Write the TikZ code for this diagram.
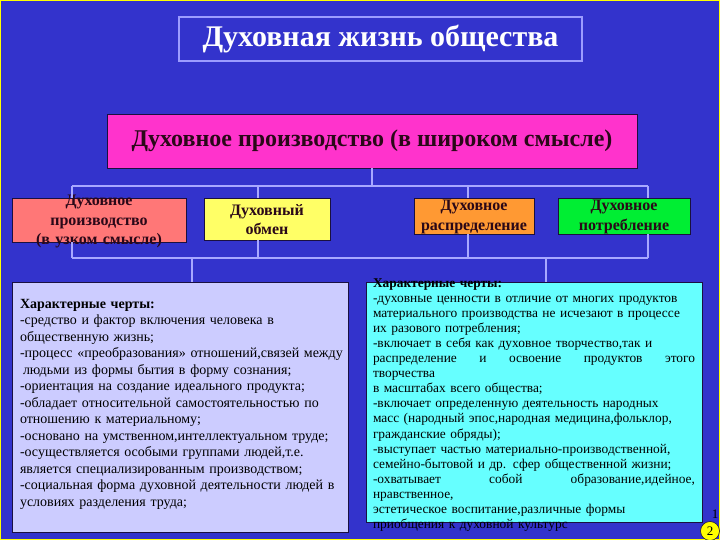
\documentclass[tikz,border=0pt]{standalone}
\usepackage{fontspec}
\setmainfont{Liberation Serif}
\usetikzlibrary{positioning}

\definecolor{slideblue}{HTML}{3333CC}
\definecolor{slideyellow}{HTML}{FFFF00}
\definecolor{titleframe}{HTML}{9C9CFF}
\definecolor{wireline}{HTML}{A8A8FF}
\definecolor{boxline}{HTML}{1A1040}
\definecolor{widepink}{HTML}{FF33CC}
\definecolor{narrowred}{HTML}{FF7777}
\definecolor{exchyellow}{HTML}{FFFF66}
\definecolor{distorange}{HTML}{FF9933}
\definecolor{consgreen}{HTML}{00EE33}
\definecolor{leftlilac}{HTML}{CCCCFF}
\definecolor{rightcyan}{HTML}{66FFFF}
\definecolor{inkdark}{HTML}{2A0818}

\begin{document}
\begin{tikzpicture}[
    x=1pt, y=-1pt,
    box/.style={draw=boxline, line width=0.9pt, inner sep=0pt, align=center, text=inkdark,
        font=\bfseries\fontsize{16}{19.5}\selectfont},
    infobox/.style={draw=boxline, line width=0.9pt, inner ysep=0pt, align=left,
        font=\fontsize{14}{16.5}\selectfont},
    wire/.style={draw=wireline, line width=1.5pt},
]

% Slide background with its yellow frame
\useasboundingbox (0,0) rectangle (720,540);
\fill[slideblue] (0,0) rectangle (720,540);
\draw[slideyellow, line width=2.5pt] (0,0) rectangle (720,540);

% Title of the slide
\node[draw=titleframe, line width=1.2pt, minimum width=403pt, minimum height=44pt, text=white,
    font=\bfseries\fontsize{30}{32}\selectfont] (title) at (380.5,39) {Духовная жизнь общества};

% Spiritual production in the broad sense
\node[box, fill=widepink, minimum width=530pt, minimum height=54pt,
    font=\bfseries\fontsize{24}{28}\selectfont] (wide) at (372,141) {Духовное производство (в широком смысле)};

% The four parts of it
\node[box, fill=narrowred, text width=174pt, text height=8pt, text depth=36pt] (narrow) at (99,220) {
    Духовное\\
    производство\\
    (в узком смысле)
};
\node[box, fill=exchyellow, text width=126pt, text height=17pt, text depth=25pt] (exchange) at (267,219) {
    Духовный\\
    обмен
};
\node[box, fill=distorange, text width=120pt, text height=13pt, text depth=23pt] (distrib) at (474,216) {
    Духовное\\
    распределение
};
\node[box, fill=consgreen, text width=132pt, text height=13pt, text depth=23pt] (consume) at (624,216) {
    Духовное\\
    потребление
};

% Characteristic features, left
\node[infobox, fill=leftlilac, text width=320pt, inner xsep=8pt, text height=26pt, text depth=224pt] (info1) at (180,407) {
    \textbf{Характерные черты:}\\
    -средство и фактор включения человека в\\
    общественную жизнь;\\
    \mbox{-процесс «преобразования» отношений,связей между}\\
    \hspace*{3pt}людьми из формы бытия в форму сознания;\\
    -ориентация на создание идеального продукта;\\
    -обладает относительной самостоятельностью по\\
    отношению к материальному;\\
    -основано на умственном,интеллектуальном труде;\\
    -осуществляется особыми группами людей,т.е.\\
    является специализированным производством;\\
    -социальная форма духовной деятельности людей в\\
    условиях разделения труда;
};

% Characteristic features, right
\node[infobox, fill=rightcyan, text width=322pt, inner xsep=7pt, text height=5pt, text depth=235pt,
    font=\fontsize{13.4}{15.1}\selectfont] (info2) at (534,402) {
    \textbf{Характерные черты:}\\
    -духовные ценности в отличие от многих продуктов\\
    материального производства не исчезают в процессе\\
    их разового потребления;\\
    -включает в себя как духовное творчество,так и\\
    распределение\hfill и\hfill освоение\hfill продуктов\hfill этого\\
    творчества\\
    в масштабах всего общества;\\
    -включает определенную деятельность народных\\
    масс (народный эпос,народная медицина,фольклор,\\
    гражданские обряды);\\
    -выступает частью материально-производственной,\\
    семейно-бытовой и др. сфер общественной жизни;\\
    -охватывает\hfill собой\hfill образование,идейное,\\
    нравственное,\\
    эстетическое воспитание,различные формы\\
    приобщения к духовной культурс
};

% Upper and lower bus lines
\coordinate (upL) at (72,186);
\coordinate (upR) at (648,186);
\coordinate (loL) at (72,258);
\coordinate (loR) at (648,258);
\draw[wire] (wide.south) -- (wide.south |- upL);
\draw[wire] (upL) -- (upR);
\draw[wire] (loL) -- (loR);

% Drops to the four parts and back to the lower bus
\foreach \x/\n in {72/narrow, 258/exchange, 468/distrib, 648/consume} {
    \draw[wire] (upL -| \x,0) -- (\n.north -| \x,0);
    \draw[wire] (\n.south -| \x,0) -- (loL -| \x,0);
}

% Lower bus to the two feature boxes
\draw[wire] (loL -| 192,0) -- (info1.north -| 192,0);
\draw[wire] (loL -| 546,0) -- (info2.north -| 546,0);

% Slide number
\node[circle, fill=slideyellow, draw=boxline, line width=0.6pt, inner sep=0pt, minimum size=19pt,
    font=\fontsize{13}{13}\selectfont] (pagenum) at (710,531) {2};
\node[inner sep=0pt, font=\fontsize{13}{13}\selectfont] (pagetop) at (715,514) {1};

\end{tikzpicture}
\end{document}
